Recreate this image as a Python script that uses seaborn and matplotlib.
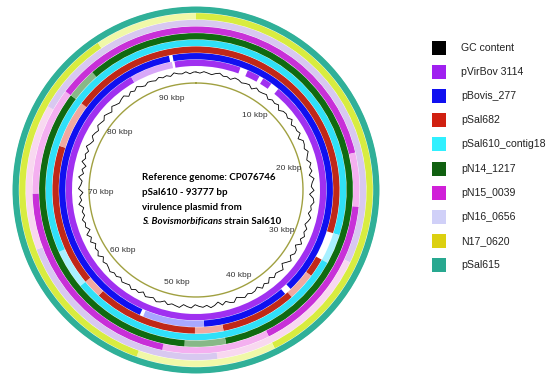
import numpy as np
import pandas as pd
import matplotlib
matplotlib.use("Agg")
import matplotlib.pyplot as plt
from matplotlib.patches import Rectangle
import seaborn as sns

# ---------------- data ----------------
genome_len_kb = 93.777
tick_kb = [10, 20, 30, 40, 50, 60, 70, 80, 90]
tick_labels = ["10 kbp", "20 kbp", "30 kbp", "40 kbp", "50 kbp", "60 kbp", "70 kbp", "80 kbp", "90 kbp"]

legend_names = ["GC content", "pVirBov 3114", "pBovis_277", "pSal682", "pSal610_contig18",
                "pN14_1217", "pN15_0039", "pN16_0656", "N17_0620", "pSal615"]
legend_colors = ["#000000", "#A020F0", "#1010F0", "#D02010", "#30F0FF",
                 "#106010", "#D020D8", "#D0D0F8", "#DCD010", "#28A890"]

# ring colours (dark = high identity, light = lower identity), inner -> outer
ring_dark = ["#A030F0", "#1010F0", "#C02818", "#30E0F8", "#106A10",
             "#C830D8", "#D8C8F0", "#D8EC40", "#30B098"]
ring_light = ["#D8A8F8", "#A8A8FF", "#F0A8A0", "#A8F0FF", "#88B888",
              "#F4B0F0", "#F8D8F0", "#F0F8A8", "#90D8C8"]

# segments per ring: start kb, end kb, level (1 dark, 0 light)
seg_pVirBov = [(0.0, 5.2, 1), (6.1, 7.6, 1), (8.1, 9.2, 1), (10.2, 86.0, 1), (86.0, 91.0, 0), (91.3, 93.777, 1)]
seg_pBovis = [(0.0, 35.5, 1), (36.3, 46.0, 1), (46.0, 52.8, 0), (53.2, 90.8, 1), (91.2, 93.777, 1)]
seg_pSal682 = [(0.0, 28.0, 1), (31.0, 33.0, 1), (33.0, 36.0, 0), (36.0, 44.0, 1), (44.0, 47.0, 0),
               (47.0, 58.0, 1), (58.0, 60.0, 0), (60.0, 75.0, 1), (75.0, 80.0, 0), (80.0, 93.777, 1)]
seg_pSal610 = [(0.0, 28.0, 1), (28.0, 31.0, 0), (31.0, 60.0, 1), (60.0, 64.0, 0), (64.0, 93.777, 1)]
seg_pN14 = [(0.0, 44.0, 1), (44.0, 48.0, 0), (48.0, 80.0, 1), (80.0, 83.0, 0), (83.0, 93.777, 1)]
seg_pN15 = [(0.0, 20.0, 1), (20.0, 25.0, 0), (25.0, 40.0, 1), (40.0, 50.0, 0), (50.0, 70.0, 1),
            (70.0, 80.0, 0), (80.0, 93.777, 1)]
seg_pN16 = [(0.0, 30.0, 1), (30.0, 45.0, 0), (45.0, 65.0, 1), (65.0, 78.0, 0), (78.0, 93.777, 1)]
seg_N17 = [(0.0, 40.0, 1), (40.0, 52.0, 0), (52.0, 85.0, 1), (85.0, 93.777, 0)]
seg_pSal615 = [(0.0, 93.777, 1)]
ring_segments = [seg_pVirBov, seg_pBovis, seg_pSal682, seg_pSal610, seg_pN14,
                 seg_pN15, seg_pN16, seg_N17, seg_pSal615]

# GC content deviation (relative units) every 0.5 kb
gc_dev = [1, -1, 2, 0, -2, 1, 3, -1, 0, -3, 2, 1, -2, 0, 1, -4, 2, -1, 0, 2,
          -3, 1, -1, 2, -5, 0, 1, -2, 3, -4, 0, -1, 2, -6, 1, 0, -3, 2, -2, -5,
          1, -3, 0, -6, 2, -2, -4, 1, -7, 0, 2, -3, -1, -5, 1, -2, -6, 0, -3, 1,
          -4, 2, -7, -1, 0, -5, 2, -3, -8, 1, -2, -4, 0, -6, 1, -3, 2, -5, -1, 0,
          -3, 1, -2, -5, 2, 0, -4, 1, -6, -1, 2, -3, 0, -2, -5, 1, -1, -4, 2, 0,
          -2, 1, -4, 0, 2, -3, -1, 1, -5, 0, -2, 2, -3, -1, 1, -4, 0, -2, 2, -1,
          -3, 0, -6, 1, -4, -2, -7, 0, -5, 1, -8, -2, -4, 0, -6, -3, -7, 1, -5, -2,
          -8, 0, -4, -6, 1, -7, -3, -9, 0, -5, -2, -6, 1, -4, -7, -1, -3, -6, 0, -2,
          -4, 1, -2, -5, 2, -1, -3, 0, 2, -4, 1, -2, 3, -1, -3, 1, 0, -2, 2, -1,
          1, -2, 3, 0, -1, 2, -2, 1]
gc_step_kb = 0.5

center_lines = ["Reference genome: CP076746", "pSal610 - 93777 bp", "virulence plasmid from"]
center_last_italic = "S. Bovismorbificans"
center_last_rest = " strain Sal610"

# ---------------- figure ----------------
sns.set_theme(style="white")
plt.rcParams["font.family"] = ["Liberation Sans", "DejaVu Sans"]

W, H, DPI = 550, 382, 100
fig = plt.figure(figsize=(W / DPI, H / DPI), dpi=DPI)
cx, cy, R = 196, 190, 184
ax = fig.add_axes([(cx - R) / W, (H - cy - R) / H, 2 * R / W, 2 * R / H], projection="polar")
ax.set_theta_zero_location("N")
ax.set_theta_direction(-1)


def kb2rad(kb):
    return np.asarray(kb) / genome_len_kb * 2 * np.pi


ring_inner0, ring_step, ring_w = 124.0, 6.65, 6.3
for k, segs in enumerate(ring_segments):
    rb = ring_inner0 + k * ring_step
    starts = [s[0] for s in segs]
    widths = [s[1] - s[0] for s in segs]
    cols = [ring_dark[k] if s[2] == 1 else ring_light[k] for s in segs]
    ax.bar(kb2rad(starts), ring_w, width=kb2rad(widths), bottom=rb, align="edge",
           color=cols, linewidth=0)

# GC content line
gc_base, gc_scale = 117.5, 0.55
gc_kb = [i * gc_step_kb for i in range(len(gc_dev))] + [genome_len_kb]
gc_r = [gc_base + gc_scale * d for d in gc_dev] + [gc_base + gc_scale * gc_dev[0]]
gc_df = pd.DataFrame({"theta": kb2rad(gc_kb), "r": gc_r})
sns.lineplot(data=gc_df, x="theta", y="r", ax=ax, color="black", linewidth=0.6,
             sort=False, estimator=None)

# inner backbone circle
th = np.linspace(0, 2 * np.pi, 400)
ax.plot(th, np.full_like(th, 107), color="#A0A040", linewidth=1.0)

# tick labels
for kb, lab in zip(tick_kb, tick_labels):
    ax.text(kb2rad(kb), 95, lab, ha="center", va="center", fontsize=6.0, color="#333333")

ax.set_rlim(0, R)
ax.axis("off")

# overlay axes in pixel coordinates for text and legend
ov = fig.add_axes([0, 0, 1, 1])
ov.set_xlim(0, W)
ov.set_ylim(H, 0)
ov.axis("off")
ov.patch.set_alpha(0)

cfam = ["Lato", "DejaVu Sans"]
tx, ty0, tdy, tfs = 142, 178, 14.5, 7.0
for i, line in enumerate(center_lines):
    ov.text(tx, ty0 + i * tdy, line, fontsize=tfs, fontweight="bold", family=cfam,
            ha="left", va="center", color="black")
t1 = ov.text(tx, ty0 + 3 * tdy, center_last_italic, fontsize=tfs, fontweight="bold", style="italic",
             family=cfam, ha="left", va="center", color="black")
fig.canvas.draw()
bb = t1.get_window_extent()
x_end_px = ov.transData.inverted().transform((bb.x1, bb.y0))[0]
ov.text(x_end_px, ty0 + 3 * tdy, center_last_rest, fontsize=tfs, fontweight="bold",
        family=cfam, ha="left", va="center", color="black")

ly0, ldy = 48, 24.1
for i, (name, col) in enumerate(zip(legend_names, legend_colors)):
    y = ly0 + i * ldy
    ov.add_patch(Rectangle((432, y - 7), 14, 14, facecolor=col, edgecolor="none"))
    ov.text(461, y, name, fontsize=7.6, ha="left", va="center", color="#222222")

fig.savefig("out.png", dpi=DPI)
